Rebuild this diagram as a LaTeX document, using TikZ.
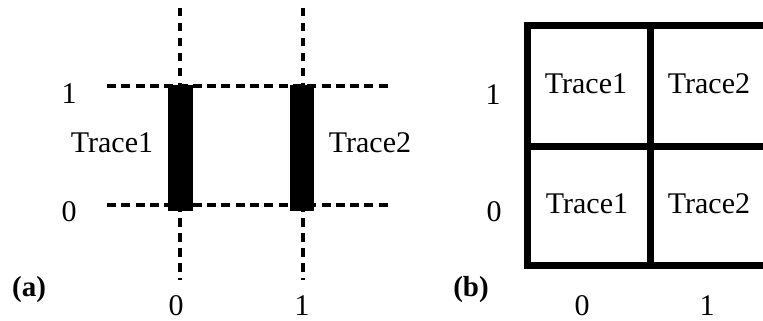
\documentclass[tikz,border=0pt]{standalone}
\usepackage{fontspec}
\setmainfont{Liberation Serif}
\begin{document}
\begin{tikzpicture}[x=1pt,y=-1pt,
  hdash/.style={line width=4pt, dash pattern=on 9pt off 5.3pt},
  vdash/.style={line width=4.5pt, dash pattern=on 8.5pt off 6.5pt},
  bar/.style={fill=black},
  gridln/.style={line width=7pt, line join=miter},
  lbl/.style={font=\fontsize{30}{32}\selectfont, inner sep=0pt, anchor=base},
  tag/.style={font=\fontsize{29}{30}\selectfont\bfseries, inner sep=0pt, anchor=base}]
\useasboundingbox (0,0) rectangle (763,321);
\clip (0,0) rectangle (763,321);
% ---------- panel (a) ----------
\coordinate (h1s) at (107,86);  \coordinate (h1e) at (390,86);
\coordinate (h0s) at (107,205); \coordinate (h0e) at (390,205);
\coordinate (v0s) at (180,8);   \coordinate (v0e) at (180,280);
\coordinate (v1s) at (303,8);   \coordinate (v1e) at (303,280);
\draw[hdash] (h1s) -- (h1e);
\draw[hdash] (h0s) -- (h0e);
\draw[vdash] (v0s) -- (v0e);
\draw[vdash] (v1s) -- (v1e);
\fill[bar] (168,85) rectangle (193,211);
\fill[bar] (290,85) rectangle (314,211);
\node[lbl] (ya1) at (69,103) {1};
\node[lbl] (ya0) at (69,221) {0};
\node[lbl] (t1a) at (112,152) {Trace1};
\node[lbl] (t2a) at (370,152) {Trace2};
\node[lbl] (xa0) at (176,315) {0};
\node[lbl] (xa1) at (302,315) {1};
\node[tag] (taga) at (29,296) {(a)};
% ---------- panel (b) ----------
\draw[gridln] (527,26) rectangle (790,265);
\draw[gridln] (527,146) -- (790,146);
\draw[gridln] (650,26) -- (650,265);
\node[lbl] (yb1) at (493,104) {1};
\node[lbl] (yb0) at (494,221) {0};
\node[lbl] (t11) at (586,93) {Trace1};
\node[lbl] (t21) at (709,93) {Trace2};
\node[lbl] (t10) at (587,213) {Trace1};
\node[lbl] (t20) at (709,213) {Trace2};
\node[lbl] (xb0) at (582,315) {0};
\node[lbl] (xb1) at (707,315) {1};
\node[tag] (tagb) at (471,296) {(b)};
\end{tikzpicture}
\end{document}
